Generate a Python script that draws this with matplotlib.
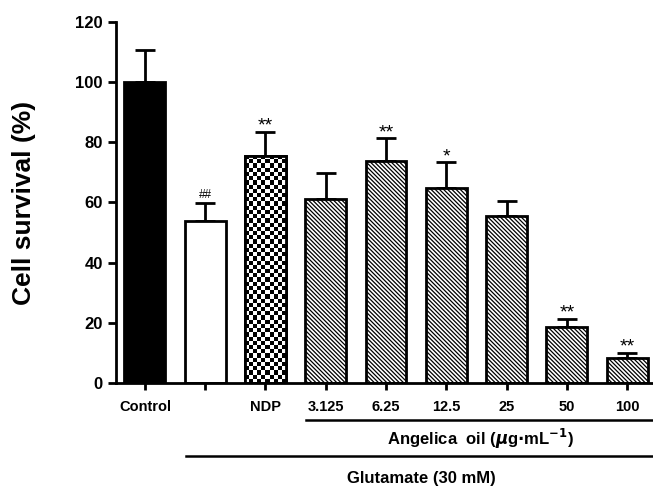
import numpy as np
import matplotlib
matplotlib.use("Agg")
import matplotlib.pyplot as plt

# data
groups = ["Control", "", "NDP", "3.125", "6.25", "12.5", "25", "50", "100"]
survival = [100.0, 53.9, 75.5, 61.1, 73.9, 64.7, 55.5, 18.5, 8.4]
sem = [10.7, 5.9, 8.0, 8.6, 7.4, 8.7, 4.9, 2.8, 1.7]
marks = ["", "##", "**", "", "**", "*", "", "**", "**"]

plt.rcParams['font.family'] = ['Liberation Sans', 'DejaVu Sans']
plt.rcParams['font.weight'] = 'bold'
plt.rcParams['axes.labelweight'] = 'bold'
plt.rcParams['hatch.linewidth'] = 0.9

fig = plt.figure(figsize=(6.53, 4.87), dpi=100)
ax = fig.add_axes([116 / 653, 104 / 487, 537 / 653, 361 / 487])

x = np.arange(len(groups))
width = 0.68
faces = ["black", "white", "white"] + ["white"] * 6
hatches = [None, None, None] + ["\\" * 8] * 6

bars = ax.bar(x, survival, width=width, color=faces, edgecolor="black",
              linewidth=2, zorder=2)
for b, h in zip(bars, hatches):
    if h:
        b.set_hatch(h)

# checkerboard fill for NDP
nb = bars[2]
nx, ny = 10, 54
checker = (np.add.outer(np.arange(ny), np.arange(nx)) % 2).astype(float)
im = ax.imshow(checker, cmap="gray", interpolation="nearest", aspect="auto",
               extent=[nb.get_x(), nb.get_x() + nb.get_width(), 0, nb.get_height()],
               zorder=2.5)
im.set_clip_path(nb)
ax.bar(x[2], survival[2], width=width, facecolor="none", edgecolor="black",
       linewidth=2, zorder=3)

ax.errorbar(x, survival, yerr=[np.zeros(len(sem)), sem], fmt="none",
            ecolor="black", elinewidth=2, capsize=7.5, capthick=2, zorder=1)

for xi, v, e, m in zip(x, survival, sem, marks):
    if m.startswith("*"):
        ax.text(xi, v + e + 0.4, m, ha="center", va="baseline", fontsize=14,
                fontweight="normal")
    elif m:
        ax.text(xi, v + e + 1.6, m, ha="center", va="baseline", fontsize=8.5,
                fontweight="normal")

ax.set_xlim(-0.48, 8.43)
ax.set_ylim(0, 120)
ax.set_yticks(range(0, 121, 20))
ax.set_xticks(x)
ax.set_xticklabels(groups)
ax.tick_params(axis="y", labelsize=12, width=2, length=6, direction="out")
ax.tick_params(axis="x", labelsize=10.5, width=2, length=5, direction="out", pad=7)
for s in ["top", "right"]:
    ax.spines[s].set_visible(False)
for s in ["left", "bottom"]:
    ax.spines[s].set_linewidth(2)
ax.set_ylabel("Cell survival (%)", fontsize=19)
ax.yaxis.set_label_coords(-0.149, 0.5)

# group annotations below the axis
def px(xp, yp):
    return (xp / 653, 1 - yp / 487)

fig.add_artist(plt.Line2D([306 / 653, 1.0], [1 - 420 / 487] * 2,
                          color="black", linewidth=1.8))
fig.text(*px(480, 439), r"Angelica  oil ($\mu$g$\cdot$mL$^{\mathsf{-1}}$)",
         ha="center", va="center", fontsize=12)
fig.add_artist(plt.Line2D([186 / 653, 1.0], [1 - 456 / 487] * 2,
                          color="black", linewidth=1.8))
fig.text(*px(421, 478), "Glutamate (30 mM)", ha="center", va="center",
         fontsize=12)

fig.savefig("out.png", dpi=100)
